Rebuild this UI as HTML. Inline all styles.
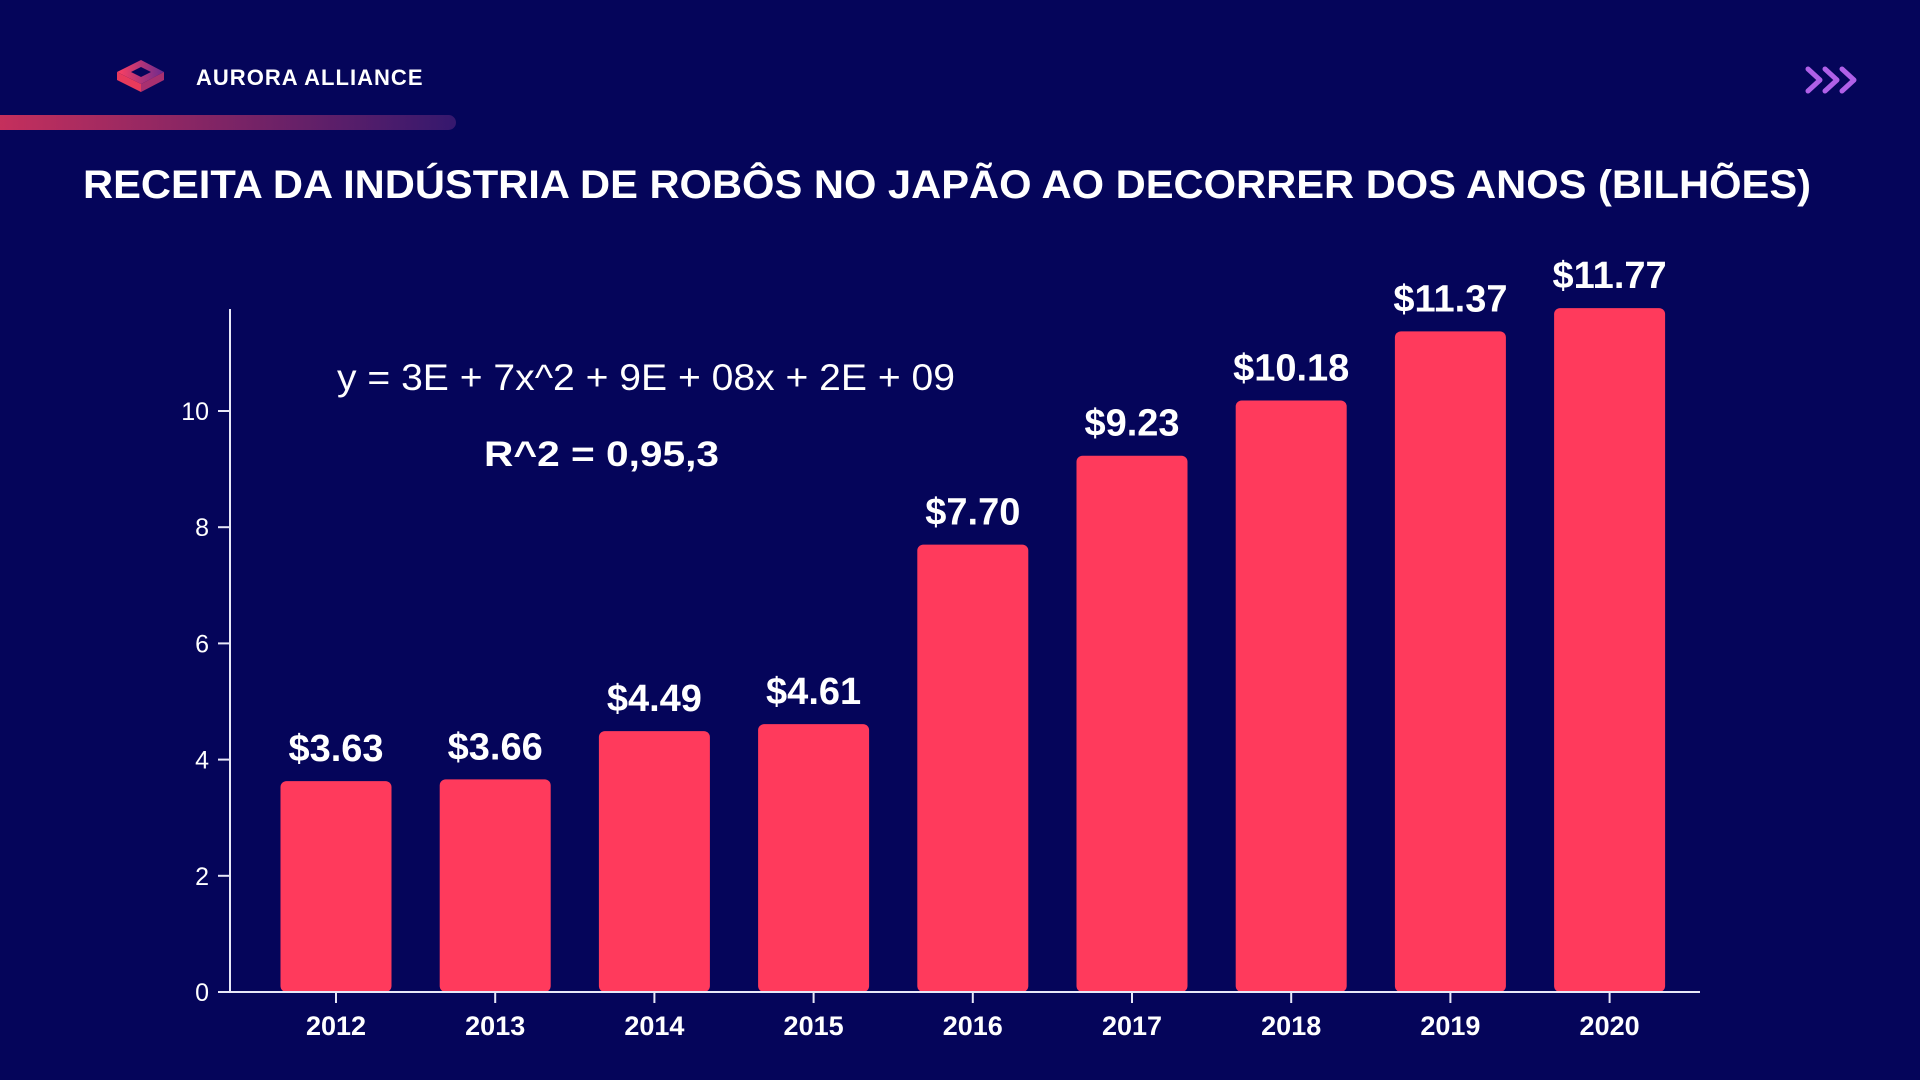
<!DOCTYPE html>
<html><head><meta charset="utf-8"><style>
html,body{margin:0;padding:0;background:#05055a;}
svg{display:block;font-family:"Liberation Sans",sans-serif;}
</style></head><body>
<svg id="c" width="1920" height="1080" viewBox="0 0 1920 1080">
<defs>
<linearGradient id="lg" x1="0" x2="1"><stop offset="0" stop-color="#c8305c"/><stop offset="1" stop-color="#35186e"/></linearGradient>
<linearGradient id="cube" x1="0" x2="1"><stop offset="0" stop-color="#ff4060"/><stop offset="1" stop-color="#6a2a90"/></linearGradient>
</defs>
<rect width="1920" height="1080" fill="#05055a"/>
<g>
<polygon points="117,72 141,60 164,72 141,84" fill="url(#cube)"/>
<polygon points="117,72 141,84 141,92 117,80" fill="#e83a5c"/>
<polygon points="141,84 164,72 164,80 141,92" fill="#a83070"/>
<polygon points="131,72 141,67 151,72 141,77" fill="#05055a"/>
</g>
<text x="196" y="85" font-size="22" font-weight="bold" fill="#fff" letter-spacing="1.5" textLength="228">AURORA ALLIANCE</text>
<rect x="-10" y="115" width="466" height="15" rx="7.5" fill="url(#lg)"/>
<g fill="none" stroke="#b060e8" stroke-width="5" stroke-linejoin="round" stroke-linecap="round">
<polyline points="1808,69 1820,80 1808,91"/>
<polyline points="1825,69 1837,80 1825,91"/>
<polyline points="1842,69 1854,80 1842,91"/>
</g>
<text x="83" y="198" font-size="40" font-weight="bold" fill="#fff" textLength="1728" lengthAdjust="spacingAndGlyphs">RECEITA DA INDÚSTRIA DE ROBÔS NO JAPÃO AO DECORRER DOS ANOS (BILHÕES)</text>
<text x="337" y="390" font-size="37" fill="#fff" textLength="618" lengthAdjust="spacingAndGlyphs">y = 3E + 7x^2 + 9E + 08x + 2E + 09</text>
<text x="484" y="466" font-size="35" font-weight="bold" fill="#fff" textLength="235" lengthAdjust="spacingAndGlyphs">R^2 = 0,95,3</text>
<g id="plot"></g>
</svg>
<script>
const categories=["2012","2013","2014","2015","2016","2017","2018","2019","2020"];
const values=[3.63,3.66,4.49,4.61,7.70,9.23,10.18,11.37,11.77];
const valueLabels=["$3.63","$3.66","$4.49","$4.61","$7.70","$9.23","$10.18","$11.37","$11.77"];
const yTicks=[0,2,4,6,8,10];
const NS="http://www.w3.org/2000/svg";
const g=document.getElementById('plot');
const x0=230,y0=992,unit=58.1,step=159.2,bw=111,first=336;
const xs=i=>first+i*step;
const ys=v=>y0-v*unit;
function mk(t,a){const e=document.createElementNS(NS,t);for(const k in a)e.setAttribute(k,a[k]);g.appendChild(e);return e;}
values.forEach((v,i)=>{
 const b=mk('rect',{x:xs(i)-bw/2,y:ys(v),width:bw,height:y0-ys(v),rx:6,fill:'#ff3a5c'});
 
 
 const t=mk('text',{x:xs(i),y:ys(v)-20,'text-anchor':'middle','font-size':38,'font-weight':'bold',fill:'#fff'});
 t.textContent=valueLabels[i];
 
 
 const tk=mk('line',{x1:xs(i),x2:xs(i),y1:y0,y2:y0+11,stroke:'#e8e8f8','stroke-width':2});
 
 
 const xl=mk('text',{x:xs(i),y:1035,'text-anchor':'middle','font-size':27,'font-weight':'bold',fill:'#fff'});
 xl.textContent=categories[i];
 
 
});
yTicks.forEach(v=>{
 const tk=mk('line',{x1:x0-12,x2:x0,y1:ys(v),y2:ys(v),stroke:'#e8e8f8','stroke-width':2});
 
 
 const l=mk('text',{x:x0-21,y:ys(v)+9,'text-anchor':'end','font-size':25,fill:'#fff'});
 l.textContent=v;
 
 
});
const ya=mk('line',{x1:x0,x2:x0,y1:309,y2:y0,stroke:'#e8e8f8','stroke-width':2});


const xa=mk('line',{x1:x0,x2:1700,y1:y0,y2:y0,stroke:'#e8e8f8','stroke-width':2});


</script>
</body></html>
